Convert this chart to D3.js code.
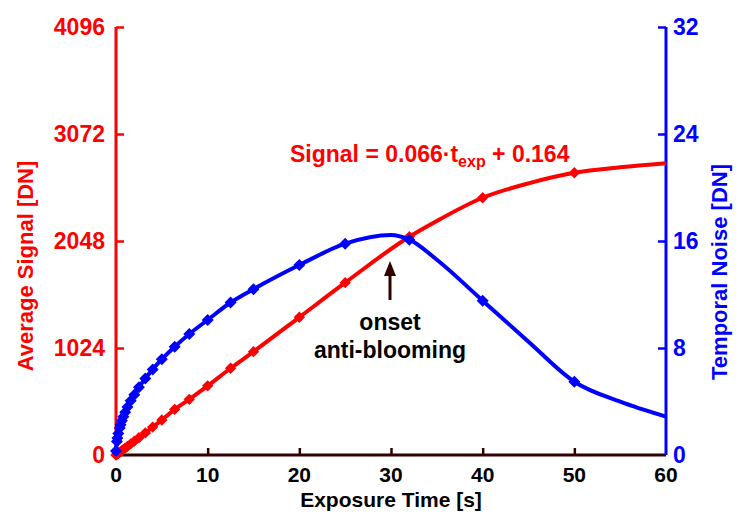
<!DOCTYPE html>
<html>
<head>
<meta charset="utf-8">
<script src="https://cdn.jsdelivr.net/npm/d3@7"></script>
<style>
  body { margin: 0; background: #fff; }
  text { font-family: 'Liberation Sans', Arial, sans-serif; font-weight: bold; }
</style>
</head>
<body>
<svg id="chart" width="746" height="520"></svg>
<script>
// measured exposure steps (markers)
var expTime = [0, 0.1, 0.16, 0.25, 0.4, 0.5, 0.64, 0.8, 1, 1.25, 1.6, 2, 2.5, 3.2, 4, 5, 6.4, 8, 10, 12.5, 15, 20, 25, 32, 40, 50];
var avgSignal = [0, 7, 11, 17, 26, 33, 42, 53, 66, 83, 106, 132, 165, 211, 267, 335, 437, 533, 662, 830, 989, 1318, 1649, 2089, 2462, 2701];
var tempNoise = [0.3, 1.0, 1.28, 1.6, 2.02, 2.26, 2.56, 2.86, 3.2, 3.58, 4.05, 4.5, 5.06, 5.72, 6.4, 7.16, 8.1, 9.05, 10.1, 11.4, 12.4, 14.2, 15.8, 16.1, 11.54, 5.48];

// extra points of the drawn curves (no marker)
var signalCurveTime = [35, 45, 55, 60];
var signalCurve = [2240, 2600, 2753, 2791];
var noiseCurveTime = [30, 35, 45, 55, 60];
var noiseCurve = [16.45, 14.6, 8.47, 3.99, 2.87];

var xTicks = [0, 10, 20, 30, 40, 50, 60];
var signalTicks = [0, 1024, 2048, 3072, 4096];
var noiseTicks = [0, 8, 16, 24, 32];

var svg = d3.select('#chart');

var x = d3.scaleLinear().domain([0, 60]).range([116, 666]);
var ySig = d3.scaleLinear().domain([0, 4096]).range([455, 27]);
var yNoise = d3.scaleLinear().domain([0, 32]).range([455, 27]);

var red = '#ff0000', blue = '#0000ff', brown = '#330000';

function merge(t1, v1, t2, v2) {
    var pts = t1.map(function (t, i) { return [t, v1[i]]; })
        .concat(t2.map(function (t, i) { return [t, v2[i]]; }));
    return pts.sort(function (a, b) { return a[0] - b[0]; });
}

// x axis
var xAxis = d3.axisTop(x).tickValues(xTicks.slice(1, -1)).tickSize(7).tickFormat('');
var gx = svg.append('g').attr('transform', 'translate(0,455)').call(xAxis);
gx.select('.domain').remove();
gx.selectAll('line').attr('stroke', brown).attr('stroke-width', 2.5);
svg.append('line')
    .attr('x1', x(0)).attr('x2', x(60))
    .attr('y1', 455).attr('y2', 455)
    .attr('stroke', brown).attr('stroke-width', 3);
svg.append('g').selectAll('text')
    .data(xTicks).enter().append('text')
    .attr('x', d => x(d)).attr('y', 482)
    .attr('text-anchor', 'middle').attr('font-size', 21).attr('fill', '#000')
    .text(d => d);

// left axis
var gl = svg.append('g').attr('transform', 'translate(116,0)')
    .call(d3.axisRight(ySig).tickValues(signalTicks.slice(1)).tickSize(8).tickFormat(''));
gl.select('.domain').remove();
gl.selectAll('line').attr('stroke', red).attr('stroke-width', 2.5);
svg.append('line').attr('x1', 116).attr('x2', 116).attr('y1', 27).attr('y2', 455)
    .attr('stroke', red).attr('stroke-width', 3);
svg.append('g').selectAll('text')
    .data(signalTicks).enter().append('text')
    .attr('x', 105).attr('y', d => ySig(d) + 8)
    .attr('text-anchor', 'end').attr('font-size', 23).attr('fill', red)
    .text(d => d);

// right axis
var gr = svg.append('g').attr('transform', 'translate(666,0)')
    .call(d3.axisLeft(yNoise).tickValues(noiseTicks.slice(1)).tickSize(8).tickFormat(''));
gr.select('.domain').remove();
gr.selectAll('line').attr('stroke', blue).attr('stroke-width', 2.5);
svg.append('line').attr('x1', 666).attr('x2', 666).attr('y1', 27).attr('y2', 455)
    .attr('stroke', blue).attr('stroke-width', 3);
svg.append('g').selectAll('text')
    .data(noiseTicks).enter().append('text')
    .attr('x', 673).attr('y', d => yNoise(d) + 8)
    .attr('text-anchor', 'start').attr('font-size', 23).attr('fill', blue)
    .text(d => d);

// axis titles
svg.append('text')
    .attr('transform', 'translate(33,' + 266 + ') rotate(-90)')
    .attr('text-anchor', 'middle').attr('font-size', 22).attr('fill', red)
    .text('Average Signal [DN]');
svg.append('text')
    .attr('transform', 'translate(727,' + 272 + ') rotate(-90)')
    .attr('text-anchor', 'middle').attr('font-size', 22).attr('fill', blue)
    .text('Temporal Noise [DN]');
svg.append('text')
    .attr('x', 391).attr('y', 507)
    .attr('text-anchor', 'middle').attr('font-size', 21).attr('fill', '#000')
    .text('Exposure Time [s]');

// curves
var sigLine = d3.line().x(d => x(d[0])).y(d => ySig(d[1])).curve(d3.curveMonotoneX);
var noiseLine = d3.line().x(d => x(d[0])).y(d => yNoise(d[1])).curve(d3.curveMonotoneX);

svg.append('path')
    .attr('d', sigLine(merge(expTime, avgSignal, signalCurveTime, signalCurve)))
    .attr('fill', 'none').attr('stroke', red).attr('stroke-width', 4);

var diamond = d3.symbol().type(d3.symbolSquare);

svg.append('g').selectAll('path')
    .data(expTime).enter().append('path')
    .attr('d', diamond.size(64)())
    .attr('transform', (d, i) => 'translate(' + x(d) + ',' + ySig(avgSignal[i]) + ') rotate(45)')
    .attr('fill', red);

svg.append('path')
    .attr('d', noiseLine(merge(expTime, tempNoise, noiseCurveTime, noiseCurve)))
    .attr('fill', 'none').attr('stroke', blue).attr('stroke-width', 4);

svg.append('g').selectAll('path')
    .data(expTime).enter().append('path')
    .attr('d', diamond.size(72)())
    .attr('transform', (d, i) => 'translate(' + x(d) + ',' + yNoise(tempNoise[i]) + ') rotate(45)')
    .attr('fill', blue);

// equation
var eq = svg.append('text')
    .attr('x', 290).attr('y', 162)
    .attr('font-size', 23).attr('fill', red);
eq.append('tspan').text('Signal = 0.066\u00b7t');
eq.append('tspan').attr('font-size', 16).attr('dy', 5).text('exp');
eq.append('tspan').attr('dy', -5).text(' + 0.164');

// annotation arrow
svg.append('line')
    .attr('x1', 390).attr('x2', 390).attr('y1', 300).attr('y2', 272)
    .attr('stroke', brown).attr('stroke-width', 3);
svg.append('path')
    .attr('d', 'M390,261 L384,276 L396,276 Z')
    .attr('fill', brown);
svg.append('text')
    .attr('x', 390).attr('y', 330)
    .attr('text-anchor', 'middle').attr('font-size', 23).attr('fill', '#000')
    .text('onset');
svg.append('text')
    .attr('x', 390).attr('y', 358)
    .attr('text-anchor', 'middle').attr('font-size', 23).attr('fill', '#000')
    .text('anti-blooming');
</script>
</body>
</html>
